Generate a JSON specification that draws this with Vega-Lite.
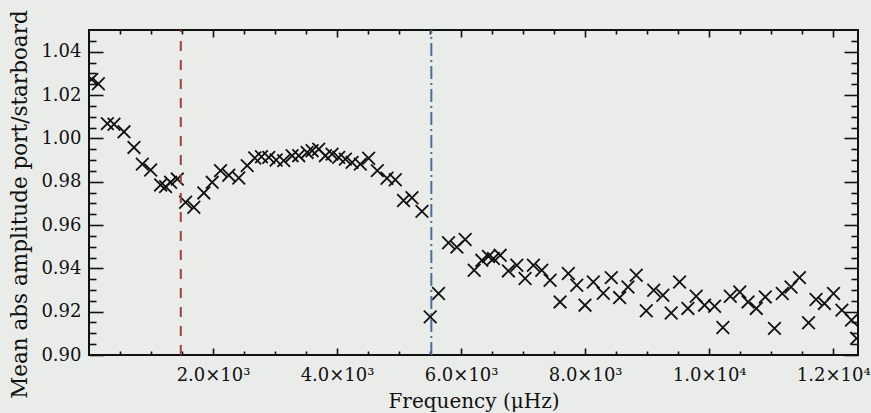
{
  "$schema": "https://vega.github.io/schema/vega-lite/v6.json",
  "autosize": "none",
  "width": 769,
  "height": 325,
  "padding": {"left": 89, "top": 30, "right": 13, "bottom": 58},
  "background": "#eaecea",
  "config": {
    "view": {"stroke": "#111111", "strokeWidth": 2},
    "axis": {
      "domain": false,
      "grid": false,
      "tickColor": "#111111",
      "tickWidth": 1.6,
      "labelFont": "DejaVu Serif",
      "labelFontSize": 18,
      "labelColor": "#111111",
      "titleFont": "DejaVu Serif",
      "titleFontSize": 20,
      "titleFontWeight": "normal",
      "titleColor": "#111111",
      "labelOverlap": false,
      "labelFlush": false,
      "labelBound": false
    }
  },
  "datasets": {
    "pts": [
      {"f": 43, "a": 1.0272}, {"f": 151, "a": 1.0252}, {"f": 296, "a": 1.0068}, {"f": 403, "a": 1.0065},
      {"f": 564, "a": 1.0030}, {"f": 725, "a": 0.9958}, {"f": 860, "a": 0.9881}, {"f": 994, "a": 0.9854},
      {"f": 1155, "a": 0.9785}, {"f": 1235, "a": 0.9777}, {"f": 1316, "a": 0.9797}, {"f": 1424, "a": 0.9812},
      {"f": 1557, "a": 0.9705}, {"f": 1691, "a": 0.9682}, {"f": 1852, "a": 0.9748}, {"f": 1987, "a": 0.9797},
      {"f": 2121, "a": 0.9851}, {"f": 2254, "a": 0.9830}, {"f": 2415, "a": 0.9817}, {"f": 2551, "a": 0.9874},
      {"f": 2673, "a": 0.9909}, {"f": 2781, "a": 0.9915}, {"f": 2899, "a": 0.9912}, {"f": 3018, "a": 0.9900},
      {"f": 3140, "a": 0.9897}, {"f": 3275, "a": 0.9920}, {"f": 3382, "a": 0.9920}, {"f": 3517, "a": 0.9935},
      {"f": 3597, "a": 0.9943}, {"f": 3704, "a": 0.9950}, {"f": 3812, "a": 0.9920}, {"f": 3919, "a": 0.9927},
      {"f": 4026, "a": 0.9912}, {"f": 4134, "a": 0.9904}, {"f": 4242, "a": 0.9889}, {"f": 4375, "a": 0.9881},
      {"f": 4509, "a": 0.9908}, {"f": 4649, "a": 0.9851}, {"f": 4805, "a": 0.9816}, {"f": 4939, "a": 0.9809},
      {"f": 5072, "a": 0.9713}, {"f": 5208, "a": 0.9726}, {"f": 5369, "a": 0.9663}, {"f": 5502, "a": 0.9176},
      {"f": 5636, "a": 0.9284}, {"f": 5797, "a": 0.9518}, {"f": 5932, "a": 0.9498}, {"f": 6066, "a": 0.9533},
      {"f": 6211, "a": 0.9391}, {"f": 6335, "a": 0.9437}, {"f": 6441, "a": 0.9455}, {"f": 6522, "a": 0.9445},
      {"f": 6630, "a": 0.9460}, {"f": 6763, "a": 0.9388}, {"f": 6899, "a": 0.9414}, {"f": 7032, "a": 0.9353},
      {"f": 7166, "a": 0.9414}, {"f": 7301, "a": 0.9391}, {"f": 7435, "a": 0.9345}, {"f": 7596, "a": 0.9245},
      {"f": 7729, "a": 0.9376}, {"f": 7865, "a": 0.9322}, {"f": 7998, "a": 0.9230}, {"f": 8132, "a": 0.9337},
      {"f": 8293, "a": 0.9285}, {"f": 8422, "a": 0.9357}, {"f": 8557, "a": 0.9265}, {"f": 8691, "a": 0.9314},
      {"f": 8824, "a": 0.9368}, {"f": 8986, "a": 0.9204}, {"f": 9106, "a": 0.9299}, {"f": 9254, "a": 0.9276},
      {"f": 9388, "a": 0.9194}, {"f": 9523, "a": 0.9337}, {"f": 9657, "a": 0.9215}, {"f": 9791, "a": 0.9271},
      {"f": 9926, "a": 0.9230}, {"f": 10087, "a": 0.9225}, {"f": 10221, "a": 0.9127}, {"f": 10341, "a": 0.9271},
      {"f": 10494, "a": 0.9291}, {"f": 10628, "a": 0.9245}, {"f": 10760, "a": 0.9215}, {"f": 10905, "a": 0.9268},
      {"f": 11053, "a": 0.9123}, {"f": 11179, "a": 0.9284}, {"f": 11320, "a": 0.9314}, {"f": 11456, "a": 0.9357},
      {"f": 11602, "a": 0.9149}, {"f": 11723, "a": 0.9256}, {"f": 11858, "a": 0.9238}, {"f": 12005, "a": 0.9284},
      {"f": 12140, "a": 0.9207}, {"f": 12295, "a": 0.9161}, {"f": 12378, "a": 0.9077}
    ],
    "lines": [
      {"f": 1480, "kind": "low"},
      {"f": 5520, "kind": "high"}
    ]
  },
  "layer": [
    {
      "data": {"name": "pts"},
      "mark": {
        "type": "point",
        "shape": "M-1,-1L1,1M-1,1L1,-1",
        "filled": false,
        "stroke": "#111111",
        "strokeWidth": 1.8,
        "size": 160,
        "opacity": 1,
        "clip": true
      },
      "encoding": {
        "x": {
          "field": "f",
          "type": "quantitative",
          "scale": {"domain": [0, 12400], "nice": false, "zero": false},
          "axis": {
            "orient": "bottom",
            "title": "Frequency (μHz)",
            "titlePadding": 4,
            "values": [500, 1000, 1500, 2000, 2500, 3000, 3500, 4000, 4500, 5000, 5500, 6000, 6500, 7000, 7500, 8000, 8500, 9000, 9500, 10000, 10500, 11000, 11500, 12000],
            "tickSize": {"condition": {"test": "datum.value % 2000 === 0", "value": -7}, "value": -4},
            "labelPadding": 18,
            "labelExpr": "datum.value % 2000 !== 0 ? '' : (datum.value < 10000 ? format(datum.value / 1000, '.1f') + '×10³' : format(datum.value / 10000, '.1f') + '×10⁴')"
          }
        },
        "y": {
          "field": "a",
          "type": "quantitative",
          "scale": {"domain": [0.9, 1.05], "nice": false, "zero": false},
          "axis": {
            "orient": "left",
            "title": "Mean abs amplitude port/starboard",
            "titleFontSize": 21.5,
            "titleX": -69,
            "titleY": 174,
            "titleAngle": -90,
            "titleAlign": "center",
            "titleBaseline": "middle",
            "values": [0.9, 0.905, 0.91, 0.915, 0.92, 0.925, 0.93, 0.935, 0.94, 0.945, 0.95, 0.955, 0.96, 0.965, 0.97, 0.975, 0.98, 0.985, 0.99, 0.995, 1.0, 1.005, 1.01, 1.015, 1.02, 1.025, 1.03, 1.035, 1.04, 1.045],
            "tickSize": {"condition": {"test": "abs(round(datum.value * 50) - datum.value * 50) < 0.01", "value": -14}, "value": -7},
            "labelPadding": 22,
            "labelExpr": "abs(round(datum.value * 50) - datum.value * 50) < 0.01 ? format(datum.value, '.2f') : ''"
          }
        }
      }
    },
    {
      "data": {"name": "lines"},
      "mark": {"type": "rule", "strokeWidth": 2},
      "encoding": {
        "x": {
          "field": "f",
          "type": "quantitative",
          "scale": {"domain": [0, 12400], "nice": false, "zero": false},
          "axis": {
            "orient": "top",
            "title": null,
            "labels": false,
            "values": [500, 1000, 1500, 2000, 2500, 3000, 3500, 4000, 4500, 5000, 5500, 6000, 6500, 7000, 7500, 8000, 8500, 9000, 9500, 10000, 10500, 11000, 11500, 12000],
            "tickSize": {"condition": {"test": "datum.value % 2000 === 0", "value": -7}, "value": -4}
          }
        },
        "y": {
          "datum": 0.9,
          "type": "quantitative",
          "scale": {"domain": [0.9, 1.05], "nice": false, "zero": false},
          "axis": {
            "orient": "right",
            "title": null,
            "labels": false,
            "values": [0.9, 0.905, 0.91, 0.915, 0.92, 0.925, 0.93, 0.935, 0.94, 0.945, 0.95, 0.955, 0.96, 0.965, 0.97, 0.975, 0.98, 0.985, 0.99, 0.995, 1.0, 1.005, 1.01, 1.015, 1.02, 1.025, 1.03, 1.035, 1.04, 1.045],
            "tickSize": {"condition": {"test": "abs(round(datum.value * 50) - datum.value * 50) < 0.01", "value": -14}, "value": -7}
          }
        },
        "y2": {"datum": 1.05},
        "color": {
          "field": "kind",
          "type": "nominal",
          "scale": {"domain": ["low", "high"], "range": ["#a3403a", "#4b6f98"]},
          "legend": null
        },
        "strokeDash": {
          "field": "kind",
          "type": "nominal",
          "scale": {"domain": ["low", "high"], "range": [[10, 9], [13, 4, 2, 4]]},
          "legend": null
        }
      }
    }
  ],
  "resolve": {"axis": {"x": "independent", "y": "independent"}}
}
